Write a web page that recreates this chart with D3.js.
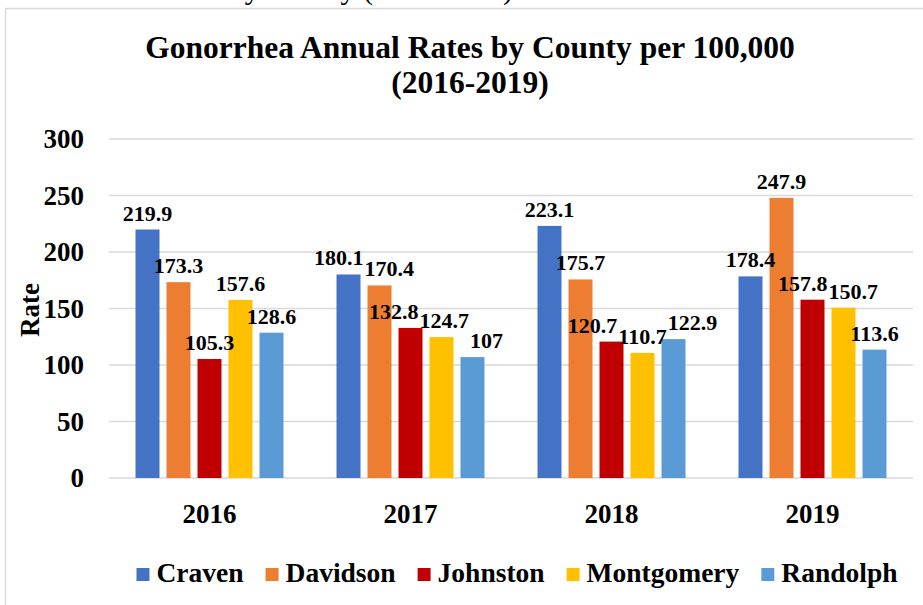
<!DOCTYPE html>
<html>
<head>
<meta charset="utf-8">
<script src="https://cdn.jsdelivr.net/npm/d3@7"></script>
<style>
  html, body { margin: 0; padding: 0; background: #fff; }
  svg { display: block; }
  text { font-family: "Liberation Serif", "Times New Roman", serif; fill: #000; }
</style>
</head>
<body>
<svg id="chart" width="923" height="605"></svg>
<script>
// ---- data ----
const years = ["2016", "2017", "2018", "2019"];
const counties = ["Craven", "Davidson", "Johnston", "Montgomery", "Randolph"];
const craven     = [219.9, 180.1, 223.1, 178.4];
const davidson   = [173.3, 170.4, 175.7, 247.9];
const johnston   = [105.3, 132.8, 120.7, 157.8];
const montgomery = [157.6, 124.7, 110.7, 150.7];
const randolph   = [128.6, 107, 122.9, 113.6];
const yTicks = [0, 50, 100, 150, 200, 250, 300];
const colors = ["#4472C4", "#ED7D31", "#C00000", "#FFC000", "#5B9BD5"];

const seriesValues = [craven, davidson, johnston, montgomery, randolph];
const rows = years.map((y, i) => ({
  year: y,
  values: counties.map((c, j) => ({ county: c, value: seriesValues[j][i], idx: j }))
}));

const svg = d3.select("#chart");

// chart frame
svg.append("rect")
  .attr("x", 5.5).attr("y", 8.5)
  .attr("width", 1000).attr("height", 700)
  .attr("fill", "#fff").attr("stroke", "#d9d9d9").attr("stroke-width", 1.5);

// cut-off text above frame (from the source page)
svg.append("text")
  .attr("x", 513).attr("y", -1)
  .attr("text-anchor", "end")
  .style("font-size", "30px")
  .text("Gonorrhea Annual Rates by County (2016-2019)");

// title
const title = svg.append("text")
  .attr("text-anchor", "middle")
  .style("font-size", "31.5px").style("font-weight", "bold");
title.append("tspan").attr("x", 470).attr("y", 58).text("Gonorrhea Annual Rates by County per 100,000");
title.append("tspan").attr("x", 470).attr("y", 93).text("(2016-2019)");

// scales
const x0 = d3.scaleBand().domain(years).range([109, 913]).padding(0);
const x1 = d3.scaleBand().domain(counties).range([0, x0.bandwidth()])
  .paddingInner(0.226).paddingOuter(0.855);
const y = d3.scaleLinear().domain([0, 300]).range([478, 139]);

// gridlines
svg.append("g")
  .selectAll("line")
  .data(yTicks)
  .join("line")
  .attr("x1", 109).attr("x2", 913)
  .attr("y1", d => y(d)).attr("y2", d => y(d))
  .attr("stroke", "#d9d9d9").attr("stroke-width", 1.5);

// y axis labels
const yAxis = svg.append("g")
  .attr("transform", "translate(84,0)")
  .call(d3.axisLeft(y).tickValues(yTicks).tickSize(0).tickPadding(0));
yAxis.select(".domain").remove();
yAxis.selectAll("text")
  .style("font-family", "'Liberation Serif', 'Times New Roman', serif")
  .style("font-size", "27px").style("font-weight", "bold").attr("fill", "#000");

// y axis title
svg.append("text")
  .attr("transform", "translate(39,310) rotate(-90)")
  .attr("text-anchor", "middle")
  .style("font-size", "27px").style("font-weight", "bold")
  .text("Rate");

// x axis labels
const xAxis = svg.append("g")
  .attr("transform", "translate(0,478)")
  .call(d3.axisBottom(x0).tickSize(0).tickPadding(0));
xAxis.select(".domain").remove();
xAxis.selectAll("text")
  .attr("dy", null).attr("y", 45)
  .style("font-family", "'Liberation Serif', 'Times New Roman', serif")
  .style("font-size", "27px").style("font-weight", "bold").attr("fill", "#000");

// bars
const groups = svg.append("g").selectAll("g")
  .data(rows).join("g")
  .attr("transform", d => `translate(${x0(d.year)},0)`);

groups.selectAll("rect")
  .data(d => d.values).join("rect")
  .attr("x", d => x1(d.county))
  .attr("y", d => y(d.value))
  .attr("width", x1.bandwidth())
  .attr("height", d => y(0) - y(d.value))
  .attr("fill", d => colors[d.idx]);

// data labels (placed above bars, then spread apart where they collide)
groups.each(function () {
  const g = d3.select(this);
  const labels = g.selectAll("text.lbl")
    .data(d => d.values).join("text")
    .attr("class", "lbl")
    .attr("text-anchor", "middle")
    .style("font-size", "22px").style("font-weight", "bold")
    .text(d => d.value);
  const L = [];
  labels.each(function (d) {
    L.push({
      node: this,
      cx: x1(d.county) + x1.bandwidth() / 2,
      yb: y(d.value) - 9,
      w: this.getComputedTextLength()
    });
  });
  const H = 25;
  for (let it = 0; it < 80; it++) {
    let moved = false;
    for (let i = 0; i < L.length; i++) {
      for (let j = i + 1; j < L.length; j++) {
        const a = L[i], b = L[j];
        if (Math.abs(a.yb - b.yb) >= H) continue;
        const need = (a.w + b.w) / 2 + 1;
        const dist = b.cx - a.cx;
        if (dist < need) {
          const d = (need - dist) / 2;
          a.cx -= d; b.cx += d;
          moved = true;
        }
      }
    }
    if (!moved) break;
  }
  L.forEach(l => d3.select(l.node).attr("x", l.cx).attr("y", l.yb));
});

// legend
const legend = svg.append("g");
const items = legend.selectAll("g").data(counties).join("g");
items.append("rect")
  .attr("width", 13).attr("height", 13)
  .attr("y", -14)
  .attr("fill", (d, i) => colors[i]);
items.append("text")
  .attr("x", 20).attr("y", 0)
  .style("font-size", "27.5px").style("font-weight", "bold")
  .text(d => d);
let cx = 0;
items.each(function () {
  const g = d3.select(this);
  g.attr("transform", `translate(${cx},0)`);
  const w = g.select("text").node().getComputedTextLength();
  cx += 20 + w + 22;
});
const totalW = cx - 22;
legend.attr("transform", `translate(${517 - totalW / 2},582)`);
</script>
</body>
</html>
